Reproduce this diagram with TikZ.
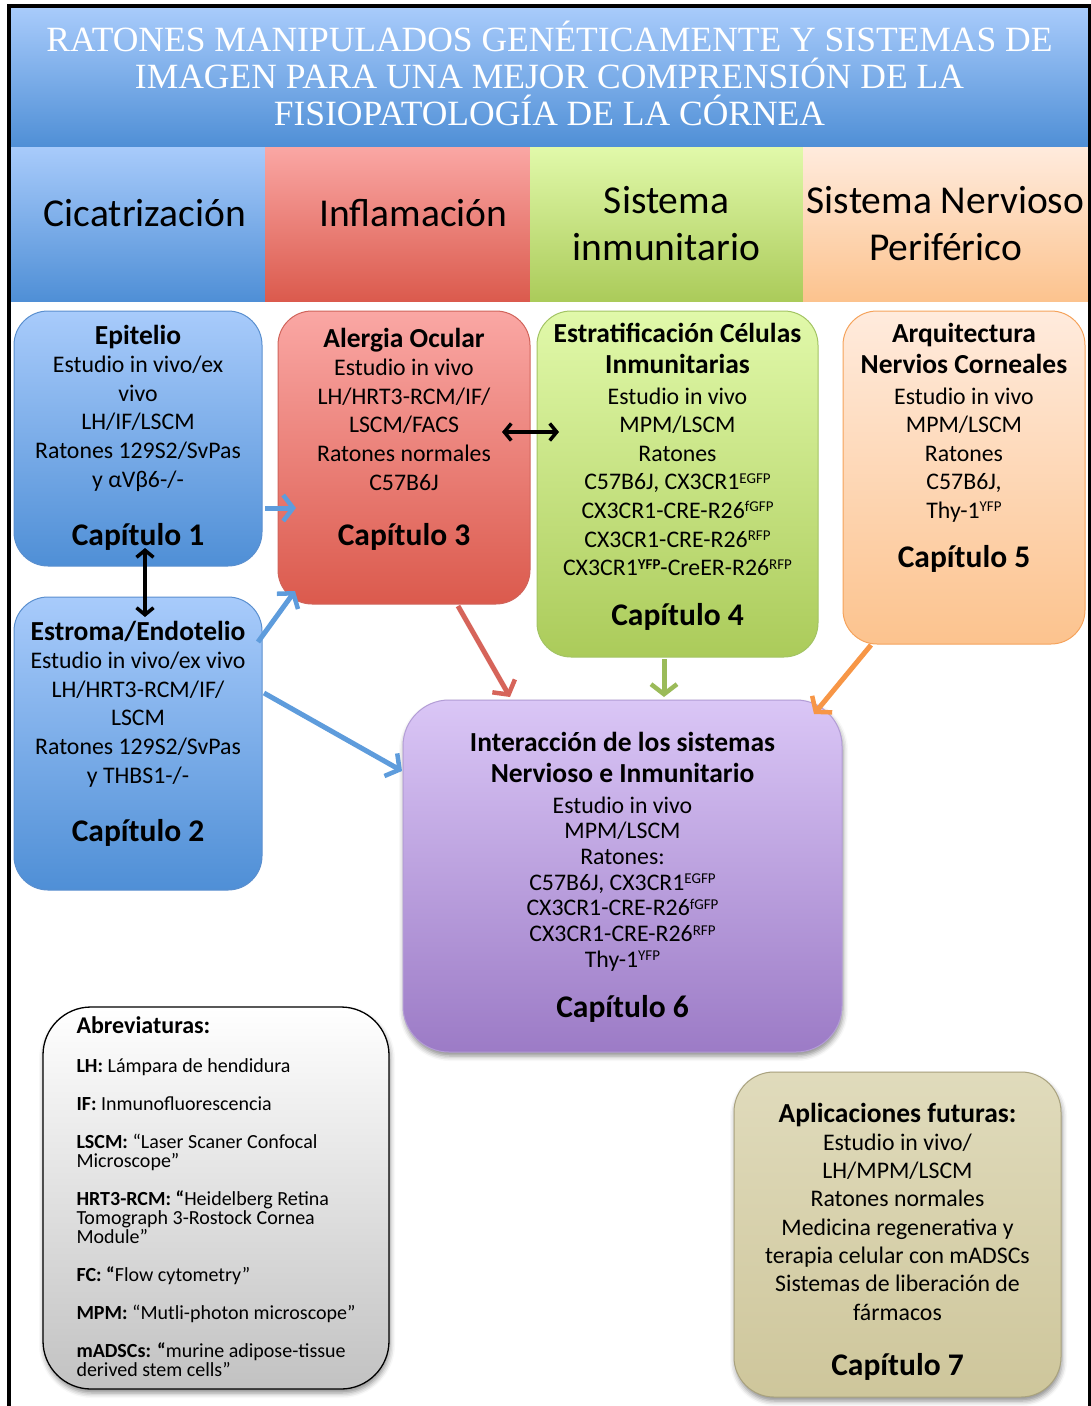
\documentclass[tikz,border=0pt]{standalone}
\usepackage{fontspec}
\setmainfont{Carlito}
\newfontfamily\titlefont{Liberation Serif}
\usepackage{tikz}
\usetikzlibrary{
  arrows.meta,
  positioning,
  calc,
  shadows.blur
}
\definecolor{blueTop}{HTML}{A8CBFB}
\definecolor{blueBot}{HTML}{4F8FD6}
\definecolor{blueEdge}{HTML}{5A8FCF}
\definecolor{redTop}{HTML}{FAA7A4}
\definecolor{redBot}{HTML}{DB5A4D}
\definecolor{redEdge}{HTML}{D0645B}
\definecolor{greenTop}{HTML}{E1F9AA}
\definecolor{greenBot}{HTML}{ABCB5A}
\definecolor{greenEdge}{HTML}{A3C464}
\definecolor{peachTop}{HTML}{FFEBDD}
\definecolor{peachBot}{HTML}{FCC38E}
\definecolor{peachEdge}{HTML}{F5A35C}
\definecolor{lilacTop}{HTML}{DAC6F6}
\definecolor{lilacBot}{HTML}{9C7BC6}
\definecolor{lilacEdge}{HTML}{B39DD6}
\definecolor{sandTop}{HTML}{E0DBBC}
\definecolor{sandBot}{HTML}{CEC69B}
\definecolor{sandEdge}{HTML}{A9A27E}
\definecolor{arrowblue}{HTML}{5E9CDC}
\definecolor{arrowred}{HTML}{D6645A}
\definecolor{arrowgreen}{HTML}{9BBB59}
\definecolor{arroworange}{HTML}{F79646}

\newcommand\chead{\bfseries\fontsize{27.5}{31}\selectfont}
\newcommand\cnum{\bfseries\fontsize{31.5}{37}\selectfont}
\newcommand\sups[1]{\raisebox{6.5pt}{\fontsize{15}{15}\selectfont #1}}
\lineskiplimit=-100pt

\begin{document}
\begin{tikzpicture}[
  x=1pt, y=-1pt,
  band/.style={inner sep=0pt, outer sep=0pt, anchor=north west,
    font=\fontsize{39.5}{47}\selectfont, align=center},
  chap/.style={rounded corners=34pt, draw, line width=1pt, inner ysep=0pt,
    outer sep=0pt, anchor=north, align=center,
    font=\fontsize{23.8}{28.6}\selectfont},
  flow/.style={line width=5pt,
    -{Straight Barb[length=10pt, width=26pt, line width=4.5pt]}},
  link/.style={line width=3.5pt,
    {Straight Barb[length=7pt, width=17pt]}-{Straight Barb[length=7pt, width=17pt]}},
  soft/.style={blur shadow={shadow xshift=1pt, shadow yshift=-4pt,
    shadow blur radius=5pt, shadow opacity=45}},
]
\useasboundingbox (0,0) rectangle (1091,1406);

% title and the four fields
\node[band, minimum width=1077pt, text height=117pt, text depth=22pt,
  top color=blueTop, bottom color=blueBot, text=white,
  font=\titlefont\fontsize{35.5}{37}\selectfont] (title) at (11,8)
  {RATONES MANIPULADOS GENÉTICAMENTE Y SISTEMAS DE\\
   IMAGEN PARA UNA MEJOR COMPRENSIÓN DE LA\\
   FISIOPATOLOGÍA DE LA CÓRNEA};

\node[band, minimum width=254pt, text height=79pt, text depth=75pt,
  top color=blueTop, bottom color=blueBot] (hcic) at (11,147)
  {\hspace*{14pt}Cicatrización};
\node[band, minimum width=265pt, text height=79pt, text depth=75pt,
  top color=redTop, bottom color=redBot] (hinf) at (265,147)
  {\hspace*{32pt}Inflamación};
\node[band, minimum width=273pt, text height=113pt, text depth=41pt,
  top color=greenTop, bottom color=greenBot] (hinm) at (530,147)
  {Sistema\\ inmunitario};
\node[band, minimum width=285pt, text height=113pt, text depth=41pt,
  top color=peachTop, bottom color=peachBot] (hsnp) at (803,147)
  {Sistema Nervioso\\ Periférico};

% chapters
\node[chap, minimum width=248pt, text height=234pt, text depth=21pt,
  top color=blueTop, bottom color=blueBot, draw=blueEdge] (epi) at (138,311)
  {{\chead Epitelio}\\
   Estudio in vivo/ex\\ vivo\\ LH/IF/LSCM\\ Ratones 129S2/SvPas\\ y αVβ6-/-\\[29.4pt]
   {\cnum Capítulo 1}};

\node[chap, minimum width=252pt, text height=234pt, text depth=59pt,
  top color=redTop, bottom color=redBot, draw=redEdge] (alerg) at (404,311)
  {{\chead Alergia Ocular}\\
   Estudio in vivo\\ LH/HRT3-RCM/IF/\\ LSCM/FACS\\ Ratones normales\\ C57B6J\\[26.4pt]
   {\cnum Capítulo 3}};

\node[chap, minimum width=281pt, text height=314pt, text depth=32pt,
  top color=greenTop, bottom color=greenBot, draw=greenEdge] (estrat) at (677.5,311)
  {{\chead Estratificación Células}\\[2.4pt]
   {\chead Inmunitarias}\\[2.4pt]
   Estudio in vivo\\ MPM/LSCM\\ Ratones\\ C57B6J, CX3CR1\sups{EGFP}\\
   CX3CR1-CRE-R26\sups{fGFP}\\ CX3CR1-CRE-R26\sups{RFP}\\
   CX3CR1\sups{\bfseries YFP}-CreER-R26\sups{RFP}\\[20.8pt]
   {\cnum Capítulo 4}};

\node[chap, minimum width=242pt, text height=256pt, text depth=77pt,
  top color=peachTop, bottom color=peachBot, draw=peachEdge] (arq) at (964,311)
  {{\chead Arquitectura}\\[2.4pt]
   {\chead Nervios Corneales}\\[2.4pt]
   Estudio in vivo\\ MPM/LSCM\\ Ratones\\ C57B6J,\\ Thy-1\sups{YFP}\\[20pt]
   {\cnum Capítulo 5}};

\node[chap, minimum width=248pt, text height=244pt, text depth=49pt,
  top color=blueTop, bottom color=blueBot, draw=blueEdge] (estr) at (138,597)
  {{\chead Estroma/Endotelio}\\
   Estudio in vivo/ex vivo\\ LH/HRT3-RCM/IF/\\ LSCM\\ Ratones 129S2/SvPas\\ y THBS1-/-\\[29.4pt]
   {\cnum Capítulo 2}};

\node[chap, soft, rounded corners=46pt, minimum width=439pt, text height=317pt,
  text depth=35pt, font=\fontsize{23.8}{25.7}\selectfont,
  top color=lilacTop, bottom color=lilacBot, draw=lilacEdge] (inter) at (622.5,700)
  {{\chead Interacción de los sistemas}\\[5.3pt]
   {\chead Nervioso e Inmunitario}\\[5.3pt]
   Estudio in vivo\\ MPM/LSCM\\ Ratones:\\ C57B6J, CX3CR1\sups{EGFP}\\
   CX3CR1-CRE-R26\sups{fGFP}\\ CX3CR1-CRE-R26\sups{RFP}\\ Thy-1\sups{YFP}\\[24.1pt]
   {\cnum Capítulo 6}};

\node[chap, soft, rounded corners=48pt, minimum width=346pt, text height=369pt,
  text depth=13pt, align=left, font=\fontsize{20}{19}\selectfont,
  top color=white, bottom color=black!24, draw=black, line width=1.3pt] (abrev) at (216,1007)
  {{\fontsize{24}{19}\selectfont\bfseries Abreviaturas:}\\[20pt]
   \textbf{LH:} Lámpara de hendidura\\[19pt]
   \textbf{IF:} Inmunofluorescencia\\[19pt]
   \textbf{LSCM:} “Laser Scaner Confocal\\
   Microscope”\\[19pt]
   \textbf{HRT3-RCM: “}Heidelberg Retina\\
   Tomograph 3-Rostock Cornea\\
   Module”\\[19pt]
   \textbf{FC: “}Flow cytometry”\\[19pt]
   \textbf{MPM:} “Mutli-photon microscope”\\[19pt]
   \textbf{mADSCs: “}murine adipose-tissue\\
   derived stem cells”};

\node[chap, soft, rounded corners=40pt, minimum width=327pt, text height=303pt,
  text depth=22pt, font=\fontsize{23.8}{28.3}\selectfont,
  top color=sandTop, bottom color=sandBot, draw=sandEdge] (aplic) at (897.5,1072)
  {{\chead Aplicaciones futuras:}\\
   Estudio in vivo/\\ LH/MPM/LSCM\\ Ratones normales\\ Medicina regenerativa y\\
   terapia celular con mADSCs\\ Sistemas de liberación de\\ fármacos\\[26.6pt]
   {\cnum Capítulo 7}};

% arrows
\draw[flow, arrowblue] ($(epi.east)+(3,69.5)$) -- ($(alerg.west)+(18,50.5)$);
\draw[flow, arrowblue] ($(estr.east)+(-4,-101.5)$) -- ($(alerg.west)+(17,133.5)$);
\draw[flow, arrowblue] ($(estr.east)+(2,-50.5)$) -- ($(inter.west)+(-1,-105)$);
\draw[flow, arrowred] ($(alerg.south)+(54,2)$) -- ($(inter.north)+(-112.5,-3)$);
\draw[flow, arrowgreen] ($(estrat.south)+(-13.5,2)$) -- ($(inter.north)+(41.5,-3)$);
\draw[flow, arroworange] ($(arq.south)+(-93,1)$) -- ($(inter.north)+(191.5,14)$);
\draw[link] ($(epi.south)+(7,-18)$) -- ($(estr.north)+(7,20)$);
\draw[link] ($(alerg.east)+(-28,-25.5)$) -- ($(estrat.west)+(22,-52)$);

% frame
\draw[line width=4pt] (9,1412) -- (9,6) -- (1089.5,6) -- (1089.5,1412);

\end{tikzpicture}
\end{document}
